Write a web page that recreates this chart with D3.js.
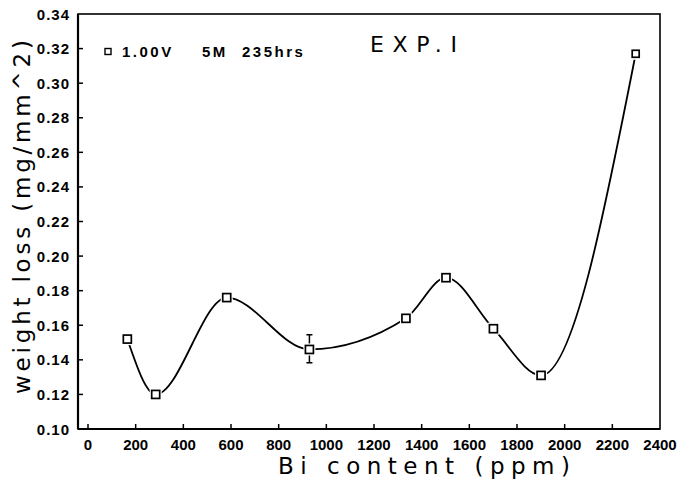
<!DOCTYPE html>
<html>
<head>
<meta charset="UTF-8" />
<title>Weight loss vs Bi content</title>
<style>
  body { margin: 0; background: #fff; }
  svg { display: block; }
  .frame { fill: none; stroke: #000; stroke-width: 1.6px; }
  .tick-line { stroke: #000; stroke-width: 1.5px; }
  .ylab { font-family: "Liberation Sans", Arial, sans-serif; font-weight: bold; font-size: 15px; letter-spacing: 1px; }
  .xlab { font-family: "Liberation Sans Narrow", "Liberation Sans", sans-serif; font-weight: bold; font-size: 15px; }
  .legend { font-family: "Liberation Sans", Arial, sans-serif; font-weight: bold; font-size: 15px; letter-spacing: 2.5px; }
  .title { font-family: "DejaVu Sans", sans-serif; font-size: 23px; }
  .curve { fill: none; stroke: #000; stroke-width: 1.8px; }
  .mark { fill: #fff; stroke: #000; stroke-width: 1.7px; }
</style>
<script src="https://d3js.org/d3.v7.min.js"></script>
</head>
<body>
<script>
// data
var ppm    = [165, 284, 582, 929, 1334, 1502, 1701, 1901, 2298];
var loss   = [0.152, 0.120, 0.176, 0.146, 0.164, 0.1875, 0.158, 0.131, 0.317];
// error bar (only on the 929 ppm point)
var errPpm = [929];
var errLo  = [0.1383];
var errHi  = [0.1545];
var xTicks = [0, 200, 400, 600, 800, 1000, 1200, 1400, 1600, 1800, 2000, 2200, 2400];
var yTicks = [0.10, 0.12, 0.14, 0.16, 0.18, 0.20, 0.22, 0.24, 0.26, 0.28, 0.30, 0.32, 0.34];
var legendParts = ["1.00V", "5M", "235hrs"];
var legendX     = [122, 202, 242];

var width = 677, height = 487;

var x = d3.scaleLinear().domain([-42, 2400]).range([78, 660]);
var y = d3.scaleLinear().domain([0.10, 0.34]).range([429, 14]);

var svg = d3.select("body").append("svg")
    .attr("width", width)
    .attr("height", height);

// frame
svg.append("rect")
    .attr("class", "frame")
    .attr("x", x.range()[0])
    .attr("y", y.range()[1])
    .attr("width", x.range()[1] - x.range()[0])
    .attr("height", y.range()[0] - y.range()[1]);
svg.append("line").attr("class", "tick-line").style("stroke-width", "2.2px")
    .attr("x1", x.range()[0]).attr("x2", x.range()[0])
    .attr("y1", y.range()[1]).attr("y2", y.range()[0]);
svg.append("line").attr("class", "tick-line").style("stroke-width", "2.2px")
    .attr("x1", x.range()[0]).attr("x2", x.range()[1])
    .attr("y1", y.range()[0]).attr("y2", y.range()[0]);

// x axis: inward ticks + labels
var xAxis = svg.append("g");
xAxis.selectAll("line")
    .data(xTicks.slice(0, -1))
    .enter().append("line")
    .attr("class", "tick-line")
    .attr("x1", x).attr("x2", x)
    .attr("y1", y(0.10)).attr("y2", y(0.10) - 5);
xAxis.selectAll("text")
    .data(xTicks)
    .enter().append("text")
    .attr("class", "xlab")
    .attr("x", x)
    .attr("y", 450)
    .attr("text-anchor", "middle")
    .text(function(d) { return d; });

// y axis
var yAxis = svg.append("g");
yAxis.selectAll("line")
    .data(yTicks.slice(1, -1))
    .enter().append("line")
    .attr("class", "tick-line")
    .attr("x1", x.range()[0]).attr("x2", x.range()[0] + 5)
    .attr("y1", y).attr("y2", y);
yAxis.selectAll("text")
    .data(yTicks)
    .enter().append("text")
    .attr("class", "ylab")
    .attr("x", 70)
    .attr("y", function(d) { return y(d) + 5.5; })
    .attr("text-anchor", "end")
    .text(d3.format(".2f"));

// axis titles
svg.append("text")
    .attr("class", "title")
    .attr("x", 278)
    .attr("y", 474)
    .attr("textLength", 292)
    .attr("lengthAdjust", "spacing")
    .text("Bi content (ppm)");

svg.append("text")
    .attr("class", "title")
    .attr("transform", "translate(30,394)rotate(-90)")
    .attr("textLength", 354)
    .attr("lengthAdjust", "spacing")
    .text("weight loss (mg/mm^2)");

// legend + label
svg.append("rect")
    .attr("class", "mark")
    .attr("x", 105).attr("y", 48.5)
    .attr("width", 6).attr("height", 6)
    .style("stroke-width", "1.4px");
svg.selectAll(".legend")
    .data(legendParts)
    .enter().append("text")
    .attr("class", "legend")
    .attr("x", function(d, i) { return legendX[i]; })
    .attr("y", 57)
    .text(function(d) { return d; });
svg.append("text")
    .attr("class", "title")
    .style("font-size", "22px")
    .attr("x", 370).attr("y", 52)
    .attr("textLength", 87)
    .attr("lengthAdjust", "spacing")
    .text("EXP.I");

// curve
var pts = ppm.map(function(d, i) { return [d, loss[i]]; });
var line = d3.line()
    .x(function(d) { return x(d[0]); })
    .y(function(d) { return y(d[1]); })
    .curve(d3.curveMonotoneX);
svg.append("path")
    .attr("class", "curve")
    .attr("d", line(pts));

// error bars
errPpm.forEach(function(p, i) {
  var g = svg.append("g");
  g.append("line").attr("class", "tick-line")
    .attr("x1", x(p)).attr("x2", x(p))
    .attr("y1", y(errLo[i])).attr("y2", y(errHi[i]));
  [errLo[i], errHi[i]].forEach(function(v) {
    g.append("line").attr("class", "tick-line")
      .attr("x1", x(p) - 3).attr("x2", x(p) + 3)
      .attr("y1", y(v)).attr("y2", y(v));
  });
});

// markers with white halo so the line stops short of them
var marks = svg.selectAll(".pt")
    .data(pts)
    .enter().append("g")
    .attr("transform", function(d) { return "translate(" + x(d[0]) + "," + y(d[1]) + ")"; });
marks.append("rect")
    .attr("x", -6).attr("y", -6).attr("width", 12).attr("height", 12)
    .style("fill", "#fff");
marks.append("rect")
    .attr("class", "mark")
    .attr("x", function(d, i) { return i === pts.length - 1 ? -3.5 : -4; })
    .attr("y", function(d, i) { return i === pts.length - 1 ? -3.5 : -4; })
    .attr("width", function(d, i) { return i === pts.length - 1 ? 7 : 8; })
    .attr("height", function(d, i) { return i === pts.length - 1 ? 7 : 8; });
</script>
</body>
</html>
